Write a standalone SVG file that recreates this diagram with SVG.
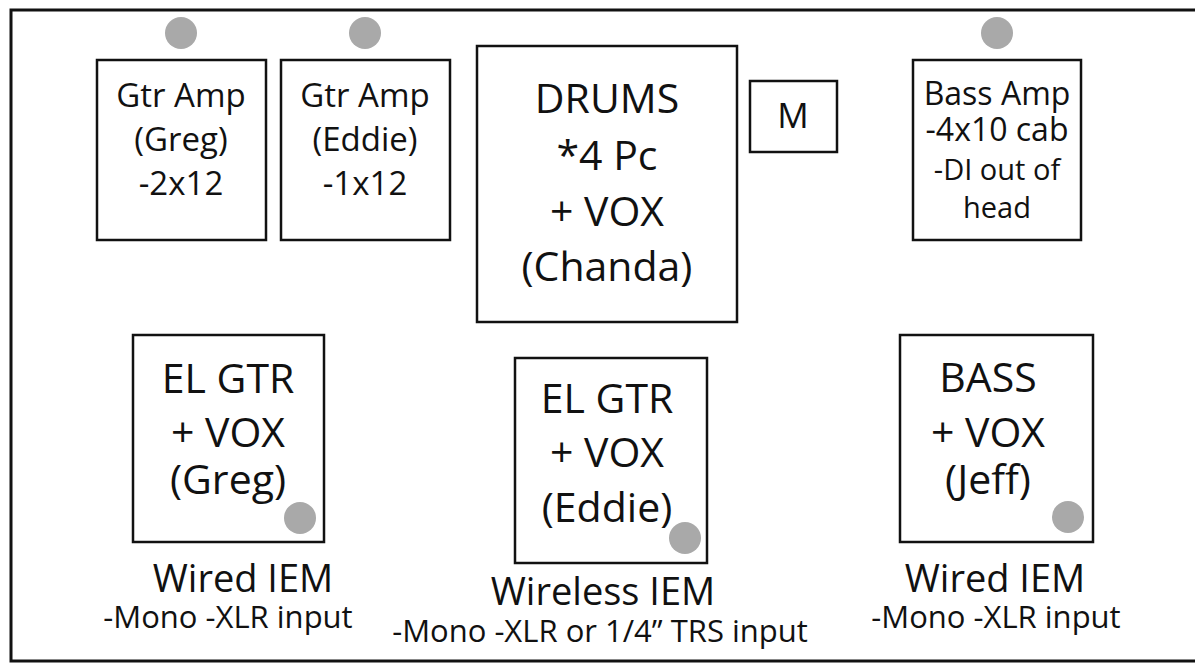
<svg xmlns="http://www.w3.org/2000/svg" width="1195" height="664" viewBox="0 0 1195 664">
<style>
.box{fill:#fff;stroke:#111;stroke-width:2.5}
.frame{fill:#fff;stroke:#111;stroke-width:3}
.mic{fill:#a9a9a9}
text{font-family:"Open Sans","Liberation Sans",sans-serif;fill:#111;text-anchor:middle}
.amp{font-size:33px}
.big{font-size:41px}
.lbl{font-size:38px}
.sub{font-size:31px}
</style>
<rect class="frame" x="11" y="10" width="1200" height="651"/>
<g id="amp-greg">
<rect class="box" x="97" y="60" width="169" height="180"/>
<circle class="mic" cx="181" cy="33" r="16"/>
<text class="amp" x="181" y="107">Gtr Amp</text>
<text class="amp" x="181" y="151">(Greg)</text>
<text class="amp" x="181" y="195">-2x12</text>
</g>
<g id="amp-eddie">
<rect class="box" x="281" y="60" width="169" height="180"/>
<circle class="mic" cx="365" cy="33" r="16"/>
<text class="amp" x="365" y="107">Gtr Amp</text>
<text class="amp" x="365" y="151">(Eddie)</text>
<text class="amp" x="365" y="195">-1x12</text>
</g>
<g id="drums">
<rect class="box" x="477" y="46" width="260" height="276"/>
<text class="big" x="607" y="113">DRUMS</text>
<text class="big" x="607" y="170">*4 Pc</text>
<text class="big" x="607" y="226">+ VOX</text>
<text class="big" x="607" y="281">(Chanda)</text>
</g>
<g id="monitor">
<rect class="box" x="750" y="81" width="87" height="71"/>
<text x="793" y="128" style="font-size:35px">M</text>
</g>
<g id="bass-amp">
<rect class="box" x="913" y="60" width="168" height="180"/>
<circle class="mic" cx="997" cy="33" r="16"/>
<text x="997" y="105" style="font-size:32px">Bass Amp</text>
<text x="997" y="141" style="font-size:32px">-4x10 cab</text>
<text x="997" y="180" style="font-size:29px">-DI out of</text>
<text x="997" y="218" style="font-size:29px">head</text>
</g>
<g id="gtr-greg">
<rect class="box" x="133" y="335" width="191" height="207"/>
<text class="big" x="228" y="393">EL GTR</text>
<text class="big" x="228" y="447">+ VOX</text>
<text class="big" x="228" y="494">(Greg)</text>
<circle class="mic" cx="300" cy="518" r="16"/>
<text class="lbl" x="243" y="592">Wired IEM</text>
<text class="sub" x="228" y="628">-Mono -XLR input</text>
</g>
<g id="gtr-eddie">
<rect class="box" x="515" y="358" width="192" height="205"/>
<text class="big" x="607" y="413">EL GTR</text>
<text class="big" x="607" y="467">+ VOX</text>
<text class="big" x="607" y="522">(Eddie)</text>
<circle class="mic" cx="685" cy="538" r="16"/>
<text class="lbl" x="603" y="605">Wireless IEM</text>
<text class="sub" x="600" y="642">-Mono -XLR or 1/4” TRS input</text>
</g>
<g id="bass-jeff">
<rect class="box" x="900" y="335" width="193" height="207"/>
<text class="big" x="988" y="392">BASS</text>
<text class="big" x="988" y="447">+ VOX</text>
<text class="big" x="988" y="494">(Jeff)</text>
<circle class="mic" cx="1068" cy="517" r="16"/>
<text class="lbl" x="995" y="592">Wired IEM</text>
<text class="sub" x="996" y="628">-Mono -XLR input</text>
</g>
<g id="connectors"></g>
</svg>
